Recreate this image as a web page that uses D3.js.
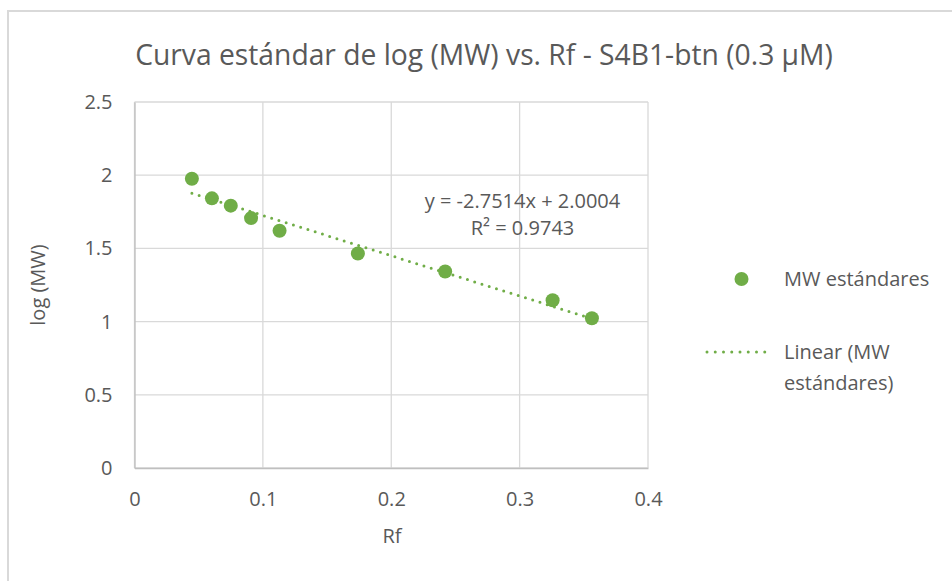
<!DOCTYPE html>
<html>
<head>
<meta charset="utf-8">
<script src="https://cdn.jsdelivr.net/npm/d3@7"></script>
<style>
  body { margin: 0; background: #fff; }
  svg text { font-family: "Open Sans", "Liberation Sans", sans-serif; fill: #595959; }
</style>
</head>
<body>
<svg id="chart" width="952" height="581"></svg>
<script>
// Rf values of the standards and their log(MW)
const rf = [0.0447, 0.0603, 0.075, 0.0908, 0.113, 0.174, 0.242, 0.3257, 0.3563]
const logMW = [1.976, 1.842, 1.792, 1.707, 1.621, 1.465, 1.342, 1.146, 1.023]
const xTicks = [0, 0.1, 0.2, 0.3, 0.4]
const yTicks = [0, 0.5, 1, 1.5, 2, 2.5]
const slope = -2.7514
const intercept = 2.0004
const r2 = 0.9743
const seriesName = 'MW estándares'

const green = '#70ad47'
const grid = '#d9d9d9'
const fs = '20px'

const svg = d3.select('#chart')
const margin = { top: 102, left: 134.5, right: 304, bottom: 113 }
const width = 952 - margin.left - margin.right
const height = 581 - margin.top - margin.bottom

// outer chart border
svg.append('rect')
  .attr('x', 8).attr('y', 11)
  .attr('width', 980).attr('height', 620)
  .style('fill', 'none').style('stroke', grid).style('stroke-width', 2)

const xScale = d3.scaleLinear().domain([0, 0.4]).range([0, width])
const yScale = d3.scaleLinear().domain([0, 2.5]).range([height, 0])

const g = svg.append('g').attr('transform', `translate(${margin.left}, ${margin.top})`)

// gridlines
g.append('g').selectAll('line').data(yTicks).join('line')
  .attr('x1', 0).attr('x2', width)
  .attr('y1', d => yScale(d)).attr('y2', d => yScale(d))
  .style('stroke', grid).style('stroke-width', 1.3)
g.append('g').selectAll('line').data(xTicks).join('line')
  .attr('x1', d => xScale(d)).attr('x2', d => xScale(d))
  .attr('y1', 0).attr('y2', height)
  .style('stroke', grid).style('stroke-width', 1.3)

const xAxis = d3.axisBottom(xScale).tickValues(xTicks).tickSize(0).tickPadding(24).tickFormat(d3.format('~g'))
const yAxis = d3.axisLeft(yScale).tickValues(yTicks).tickSize(0).tickPadding(22).tickFormat(d3.format('~g'))

g.append('g').attr('transform', `translate(0, ${height})`).call(xAxis)
  .call(s => s.select('.domain').style('stroke', '#bfbfbf').style('stroke-width', 1.3))
  .selectAll('text').style('font-size', fs)
g.append('g').call(yAxis)
  .call(s => s.select('.domain').style('stroke', '#bfbfbf').style('stroke-width', 1.3))
  .selectAll('text').style('font-size', fs).attr('text-anchor', 'end')

// trendline
const xExtent = d3.extent(rf)
const trend = xExtent.map(x => [x, slope * x + intercept])
g.append('path')
  .attr('d', d3.line().x(d => xScale(d[0])).y(d => yScale(d[1]))(trend))
  .style('fill', 'none').style('stroke', green).style('stroke-width', 3)
  .style('stroke-dasharray', '0,7.6').style('stroke-linecap', 'round')

// points
g.append('g').selectAll('circle').data(rf).join('circle')
  .attr('cx', d => xScale(d)).attr('cy', (d, i) => yScale(logMW[i]))
  .attr('r', 7).style('fill', green)

// equation
g.append('text').attr('x', 388).attr('y', 106).attr('text-anchor', 'middle')
  .style('font-size', fs).text(`y = ${slope}x + ${intercept.toFixed(4)}`)
g.append('text').attr('x', 388).attr('y', 133).attr('text-anchor', 'middle')
  .style('font-size', fs).text(`R² = ${r2}`)

// title, fitted to the reference width
const title = svg.append('text').attr('x', 484).attr('y', 65).attr('text-anchor', 'middle')
  .style('font-size', '24px').text('Curva estándar de log (MW) vs. Rf - S4B1-btn (0.3 µM)')
const tw = title.node().getComputedTextLength()
title.style('font-size', (24 * 698 / tw) + 'px')

// axis titles
svg.append('text').attr('x', 392).attr('y', 543).attr('text-anchor', 'middle')
  .style('font-size', fs).text('Rf')
svg.append('text').attr('transform', 'translate(45, 285) rotate(-90)').attr('text-anchor', 'middle')
  .style('font-size', fs).text('log (MW)')

// legend
const legend = svg.append('g')
legend.append('circle').attr('cx', 741.5).attr('cy', 279).attr('r', 7).style('fill', green)
legend.append('text').attr('x', 784).attr('y', 286).style('font-size', fs).text(seriesName)
legend.append('line').attr('x1', 707).attr('x2', 773).attr('y1', 352).attr('y2', 352)
  .style('stroke', green).style('stroke-width', 3)
  .style('stroke-dasharray', '0,8.25').style('stroke-linecap', 'round')
legend.append('text').attr('x', 784).attr('y', 359).style('font-size', fs).text('Linear (MW')
legend.append('text').attr('x', 784).attr('y', 390).style('font-size', fs).text('estándares)')
</script>
</body>
</html>
